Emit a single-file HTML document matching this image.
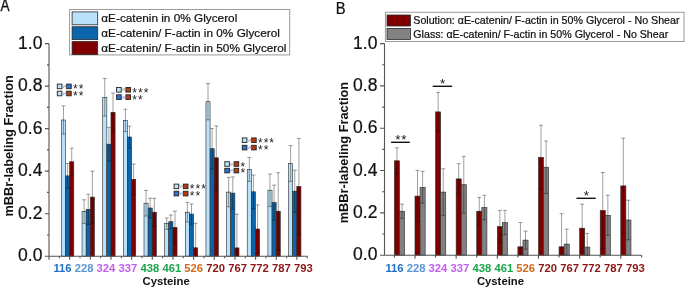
<!DOCTYPE html>
<html><head><meta charset="utf-8"><style>
html,body{margin:0;padding:0;background:#fff;}
body{width:685px;height:288px;overflow:hidden;}
svg{display:block;will-change:transform;}
.k{stroke:#111;stroke-width:0.22px;}
</style></head><body>
<svg width="685" height="288" viewBox="0 0 685 288">
<rect width="685" height="288" fill="#fff"/>
<rect x="61.40" y="120.00" width="4.13" height="136.20" fill="#b9e1f9" stroke="#2a2a2a" stroke-width="0.6"/>
<rect x="65.53" y="175.90" width="4.13" height="80.30" fill="#0a65aa" stroke="#2a2a2a" stroke-width="0.6"/>
<rect x="69.66" y="161.80" width="4.13" height="94.40" fill="#800000" stroke="#2a2a2a" stroke-width="0.6"/>
<rect x="82.05" y="211.60" width="4.13" height="44.60" fill="#b9e1f9" stroke="#2a2a2a" stroke-width="0.6"/>
<rect x="86.18" y="209.30" width="4.13" height="46.90" fill="#0a65aa" stroke="#2a2a2a" stroke-width="0.6"/>
<rect x="90.31" y="197.10" width="4.13" height="59.10" fill="#800000" stroke="#2a2a2a" stroke-width="0.6"/>
<rect x="102.70" y="97.30" width="4.13" height="158.90" fill="#b9e1f9" stroke="#2a2a2a" stroke-width="0.6"/>
<rect x="106.83" y="144.20" width="4.13" height="112.00" fill="#0a65aa" stroke="#2a2a2a" stroke-width="0.6"/>
<rect x="110.96" y="112.30" width="4.13" height="143.90" fill="#800000" stroke="#2a2a2a" stroke-width="0.6"/>
<rect x="123.35" y="120.40" width="4.13" height="135.80" fill="#b9e1f9" stroke="#2a2a2a" stroke-width="0.6"/>
<rect x="127.48" y="137.00" width="4.13" height="119.20" fill="#0a65aa" stroke="#2a2a2a" stroke-width="0.6"/>
<rect x="131.61" y="179.40" width="4.13" height="76.80" fill="#800000" stroke="#2a2a2a" stroke-width="0.6"/>
<rect x="144.00" y="203.20" width="4.13" height="53.00" fill="#b9e1f9" stroke="#2a2a2a" stroke-width="0.6"/>
<rect x="148.13" y="208.00" width="4.13" height="48.20" fill="#0a65aa" stroke="#2a2a2a" stroke-width="0.6"/>
<rect x="152.26" y="212.20" width="4.13" height="44.00" fill="#800000" stroke="#2a2a2a" stroke-width="0.6"/>
<rect x="164.65" y="223.60" width="4.13" height="32.60" fill="#b9e1f9" stroke="#2a2a2a" stroke-width="0.6"/>
<rect x="168.78" y="221.70" width="4.13" height="34.50" fill="#0a65aa" stroke="#2a2a2a" stroke-width="0.6"/>
<rect x="172.91" y="227.40" width="4.13" height="28.80" fill="#800000" stroke="#2a2a2a" stroke-width="0.6"/>
<rect x="185.30" y="212.20" width="4.13" height="44.00" fill="#b9e1f9" stroke="#2a2a2a" stroke-width="0.6"/>
<rect x="189.43" y="214.10" width="4.13" height="42.10" fill="#0a65aa" stroke="#2a2a2a" stroke-width="0.6"/>
<rect x="193.56" y="247.80" width="4.13" height="8.40" fill="#800000" stroke="#2a2a2a" stroke-width="0.6"/>
<rect x="205.95" y="101.70" width="4.13" height="154.50" fill="#b9e1f9" stroke="#2a2a2a" stroke-width="0.6"/>
<rect x="210.08" y="148.70" width="4.13" height="107.50" fill="#0a65aa" stroke="#2a2a2a" stroke-width="0.6"/>
<rect x="214.21" y="157.80" width="4.13" height="98.40" fill="#800000" stroke="#2a2a2a" stroke-width="0.6"/>
<rect x="226.60" y="192.10" width="4.13" height="64.10" fill="#b9e1f9" stroke="#2a2a2a" stroke-width="0.6"/>
<rect x="230.73" y="193.10" width="4.13" height="63.10" fill="#0a65aa" stroke="#2a2a2a" stroke-width="0.6"/>
<rect x="234.86" y="247.90" width="4.13" height="8.30" fill="#800000" stroke="#2a2a2a" stroke-width="0.6"/>
<rect x="247.25" y="169.40" width="4.13" height="86.80" fill="#b9e1f9" stroke="#2a2a2a" stroke-width="0.6"/>
<rect x="251.38" y="191.80" width="4.13" height="64.40" fill="#0a65aa" stroke="#2a2a2a" stroke-width="0.6"/>
<rect x="255.51" y="229.00" width="4.13" height="27.20" fill="#800000" stroke="#2a2a2a" stroke-width="0.6"/>
<rect x="267.90" y="190.20" width="4.13" height="66.00" fill="#b9e1f9" stroke="#2a2a2a" stroke-width="0.6"/>
<rect x="272.03" y="202.60" width="4.13" height="53.60" fill="#0a65aa" stroke="#2a2a2a" stroke-width="0.6"/>
<rect x="276.16" y="211.20" width="4.13" height="45.00" fill="#800000" stroke="#2a2a2a" stroke-width="0.6"/>
<rect x="288.55" y="163.50" width="4.13" height="92.70" fill="#b9e1f9" stroke="#2a2a2a" stroke-width="0.6"/>
<rect x="292.68" y="191.20" width="4.13" height="65.00" fill="#0a65aa" stroke="#2a2a2a" stroke-width="0.6"/>
<rect x="296.81" y="186.60" width="4.13" height="69.60" fill="#800000" stroke="#2a2a2a" stroke-width="0.6"/>
<path d="M63.46 105.90V134.10M61.46 105.90H65.47M61.46 134.10H65.47" stroke="#000" stroke-opacity="0.42" stroke-width="0.9" fill="none"/>
<path d="M67.59 163.50V188.30M65.59 163.50H69.59M65.59 188.30H69.59" stroke="#000" stroke-opacity="0.42" stroke-width="0.9" fill="none"/>
<path d="M71.72 148.20V175.40M69.72 148.20H73.72M69.72 175.40H73.72" stroke="#000" stroke-opacity="0.42" stroke-width="0.9" fill="none"/>
<path d="M84.11 199.80V223.40M82.11 199.80H86.11M82.11 223.40H86.11" stroke="#000" stroke-opacity="0.42" stroke-width="0.9" fill="none"/>
<path d="M88.24 194.20V224.40M86.24 194.20H90.24M86.24 224.40H90.24" stroke="#000" stroke-opacity="0.42" stroke-width="0.9" fill="none"/>
<path d="M92.38 171.10V223.10M90.38 171.10H94.38M90.38 223.10H94.38" stroke="#000" stroke-opacity="0.42" stroke-width="0.9" fill="none"/>
<path d="M104.76 78.50V116.10M102.76 78.50H106.76M102.76 116.10H106.76" stroke="#000" stroke-opacity="0.42" stroke-width="0.9" fill="none"/>
<path d="M108.89 127.40V161.00M106.89 127.40H110.89M106.89 161.00H110.89" stroke="#000" stroke-opacity="0.42" stroke-width="0.9" fill="none"/>
<path d="M113.02 93.00V131.60M111.02 93.00H115.02M111.02 131.60H115.02" stroke="#000" stroke-opacity="0.42" stroke-width="0.9" fill="none"/>
<path d="M125.41 109.20V131.60M123.41 109.20H127.41M123.41 131.60H127.41" stroke="#000" stroke-opacity="0.42" stroke-width="0.9" fill="none"/>
<path d="M129.54 126.10V147.90M127.54 126.10H131.54M127.54 147.90H131.54" stroke="#000" stroke-opacity="0.42" stroke-width="0.9" fill="none"/>
<path d="M133.67 164.10V194.70M131.67 164.10H135.67M131.67 194.70H135.67" stroke="#000" stroke-opacity="0.42" stroke-width="0.9" fill="none"/>
<path d="M146.06 190.40V216.00M144.06 190.40H148.06M144.06 216.00H148.06" stroke="#000" stroke-opacity="0.42" stroke-width="0.9" fill="none"/>
<path d="M150.19 198.20V217.80M148.19 198.20H152.19M148.19 217.80H152.19" stroke="#000" stroke-opacity="0.42" stroke-width="0.9" fill="none"/>
<path d="M154.32 198.30V226.10M152.32 198.30H156.32M152.32 226.10H156.32" stroke="#000" stroke-opacity="0.42" stroke-width="0.9" fill="none"/>
<path d="M166.72 217.90V229.30M164.72 217.90H168.72M164.72 229.30H168.72" stroke="#000" stroke-opacity="0.42" stroke-width="0.9" fill="none"/>
<path d="M170.84 215.00V228.40M168.84 215.00H172.84M168.84 228.40H172.84" stroke="#000" stroke-opacity="0.42" stroke-width="0.9" fill="none"/>
<path d="M174.97 211.20V243.60M172.97 211.20H176.97M172.97 243.60H176.97" stroke="#000" stroke-opacity="0.42" stroke-width="0.9" fill="none"/>
<path d="M187.36 202.30V222.10M185.36 202.30H189.36M185.36 222.10H189.36" stroke="#000" stroke-opacity="0.42" stroke-width="0.9" fill="none"/>
<path d="M191.49 204.00V224.20M189.49 204.00H193.49M189.49 224.20H193.49" stroke="#000" stroke-opacity="0.42" stroke-width="0.9" fill="none"/>
<path d="M195.62 223.20V256.20M193.62 223.20H197.62M193.62 256.20H197.62" stroke="#000" stroke-opacity="0.42" stroke-width="0.9" fill="none"/>
<path d="M208.01 83.50V119.90M206.01 83.50H210.01M206.01 119.90H210.01" stroke="#000" stroke-opacity="0.42" stroke-width="0.9" fill="none"/>
<path d="M212.14 128.40V169.00M210.14 128.40H214.14M210.14 169.00H214.14" stroke="#000" stroke-opacity="0.42" stroke-width="0.9" fill="none"/>
<path d="M216.27 125.90V189.70M214.27 125.90H218.27M214.27 189.70H218.27" stroke="#000" stroke-opacity="0.42" stroke-width="0.9" fill="none"/>
<path d="M228.66 177.40V206.80M226.66 177.40H230.66M226.66 206.80H230.66" stroke="#000" stroke-opacity="0.42" stroke-width="0.9" fill="none"/>
<path d="M232.79 176.90V209.30M230.79 176.90H234.79M230.79 209.30H234.79" stroke="#000" stroke-opacity="0.42" stroke-width="0.9" fill="none"/>
<path d="M236.92 214.10V256.20M234.92 214.10H238.92M234.92 256.20H238.92" stroke="#000" stroke-opacity="0.42" stroke-width="0.9" fill="none"/>
<path d="M249.31 157.40V181.40M247.31 157.40H251.31M247.31 181.40H251.31" stroke="#000" stroke-opacity="0.42" stroke-width="0.9" fill="none"/>
<path d="M253.44 175.00V208.60M251.44 175.00H255.44M251.44 208.60H255.44" stroke="#000" stroke-opacity="0.42" stroke-width="0.9" fill="none"/>
<path d="M257.57 204.90V253.10M255.57 204.90H259.57M255.57 253.10H259.57" stroke="#000" stroke-opacity="0.42" stroke-width="0.9" fill="none"/>
<path d="M269.96 174.00V206.40M267.96 174.00H271.96M267.96 206.40H271.96" stroke="#000" stroke-opacity="0.42" stroke-width="0.9" fill="none"/>
<path d="M274.09 185.10V220.10M272.09 185.10H276.09M272.09 220.10H276.09" stroke="#000" stroke-opacity="0.42" stroke-width="0.9" fill="none"/>
<path d="M278.22 172.70V249.70M276.22 172.70H280.22M276.22 249.70H280.22" stroke="#000" stroke-opacity="0.42" stroke-width="0.9" fill="none"/>
<path d="M290.61 145.60V181.40M288.61 145.60H292.61M288.61 181.40H292.61" stroke="#000" stroke-opacity="0.42" stroke-width="0.9" fill="none"/>
<path d="M294.74 170.20V212.20M292.74 170.20H296.74M292.74 212.20H296.74" stroke="#000" stroke-opacity="0.42" stroke-width="0.9" fill="none"/>
<path d="M298.87 138.50V234.70M296.87 138.50H300.87M296.87 234.70H300.87" stroke="#000" stroke-opacity="0.42" stroke-width="0.9" fill="none"/>
<rect x="394.40" y="160.80" width="5.10" height="94.40" fill="#800000" stroke="#2a2a2a" stroke-width="0.6"/>
<rect x="399.50" y="211.20" width="5.10" height="44.00" fill="#818181" stroke="#2a2a2a" stroke-width="0.6"/>
<rect x="414.98" y="196.10" width="5.10" height="59.10" fill="#800000" stroke="#2a2a2a" stroke-width="0.6"/>
<rect x="420.08" y="187.30" width="5.10" height="67.90" fill="#818181" stroke="#2a2a2a" stroke-width="0.6"/>
<rect x="435.56" y="111.90" width="5.10" height="143.30" fill="#800000" stroke="#2a2a2a" stroke-width="0.6"/>
<rect x="440.66" y="192.10" width="5.10" height="63.10" fill="#818181" stroke="#2a2a2a" stroke-width="0.6"/>
<rect x="456.14" y="178.90" width="5.10" height="76.30" fill="#800000" stroke="#2a2a2a" stroke-width="0.6"/>
<rect x="461.24" y="184.70" width="5.10" height="70.50" fill="#818181" stroke="#2a2a2a" stroke-width="0.6"/>
<rect x="476.72" y="211.20" width="5.10" height="44.00" fill="#800000" stroke="#2a2a2a" stroke-width="0.6"/>
<rect x="481.82" y="207.50" width="5.10" height="47.70" fill="#818181" stroke="#2a2a2a" stroke-width="0.6"/>
<rect x="497.30" y="226.60" width="5.10" height="28.60" fill="#800000" stroke="#2a2a2a" stroke-width="0.6"/>
<rect x="502.40" y="222.60" width="5.10" height="32.60" fill="#818181" stroke="#2a2a2a" stroke-width="0.6"/>
<rect x="517.88" y="246.80" width="5.10" height="8.40" fill="#800000" stroke="#2a2a2a" stroke-width="0.6"/>
<rect x="522.98" y="240.10" width="5.10" height="15.10" fill="#818181" stroke="#2a2a2a" stroke-width="0.6"/>
<rect x="538.46" y="157.30" width="5.10" height="97.90" fill="#800000" stroke="#2a2a2a" stroke-width="0.6"/>
<rect x="543.56" y="167.20" width="5.10" height="88.00" fill="#818181" stroke="#2a2a2a" stroke-width="0.6"/>
<rect x="559.04" y="246.80" width="5.10" height="8.40" fill="#800000" stroke="#2a2a2a" stroke-width="0.6"/>
<rect x="564.14" y="244.10" width="5.10" height="11.10" fill="#818181" stroke="#2a2a2a" stroke-width="0.6"/>
<rect x="579.62" y="228.20" width="5.10" height="27.00" fill="#800000" stroke="#2a2a2a" stroke-width="0.6"/>
<rect x="584.72" y="247.10" width="5.10" height="8.10" fill="#818181" stroke="#2a2a2a" stroke-width="0.6"/>
<rect x="600.20" y="210.50" width="5.10" height="44.70" fill="#800000" stroke="#2a2a2a" stroke-width="0.6"/>
<rect x="605.30" y="215.30" width="5.10" height="39.90" fill="#818181" stroke="#2a2a2a" stroke-width="0.6"/>
<rect x="620.78" y="185.90" width="5.10" height="69.30" fill="#800000" stroke="#2a2a2a" stroke-width="0.6"/>
<rect x="625.88" y="220.00" width="5.10" height="35.20" fill="#818181" stroke="#2a2a2a" stroke-width="0.6"/>
<path d="M396.95 147.80V173.80M394.95 147.80H398.95M394.95 173.80H398.95" stroke="#000" stroke-opacity="0.42" stroke-width="0.9" fill="none"/>
<path d="M402.05 204.10V218.30M400.05 204.10H404.05M400.05 218.30H404.05" stroke="#000" stroke-opacity="0.42" stroke-width="0.9" fill="none"/>
<path d="M417.53 170.30V221.90M415.53 170.30H419.53M415.53 221.90H419.53" stroke="#000" stroke-opacity="0.42" stroke-width="0.9" fill="none"/>
<path d="M422.63 171.30V203.30M420.63 171.30H424.63M420.63 203.30H424.63" stroke="#000" stroke-opacity="0.42" stroke-width="0.9" fill="none"/>
<path d="M438.11 92.40V131.40M436.11 92.40H440.11M436.11 131.40H440.11" stroke="#000" stroke-opacity="0.42" stroke-width="0.9" fill="none"/>
<path d="M443.21 168.80V215.40M441.21 168.80H445.21M441.21 215.40H445.21" stroke="#000" stroke-opacity="0.42" stroke-width="0.9" fill="none"/>
<path d="M458.69 163.70V194.10M456.69 163.70H460.69M456.69 194.10H460.69" stroke="#000" stroke-opacity="0.42" stroke-width="0.9" fill="none"/>
<path d="M463.79 156.40V213.00M461.79 156.40H465.79M461.79 213.00H465.79" stroke="#000" stroke-opacity="0.42" stroke-width="0.9" fill="none"/>
<path d="M479.27 197.40V225.00M477.27 197.40H481.27M477.27 225.00H481.27" stroke="#000" stroke-opacity="0.42" stroke-width="0.9" fill="none"/>
<path d="M484.37 195.20V219.80M482.37 195.20H486.37M482.37 219.80H486.37" stroke="#000" stroke-opacity="0.42" stroke-width="0.9" fill="none"/>
<path d="M499.85 210.40V242.80M497.85 210.40H501.85M497.85 242.80H501.85" stroke="#000" stroke-opacity="0.42" stroke-width="0.9" fill="none"/>
<path d="M504.95 210.40V234.80M502.95 210.40H506.95M502.95 234.80H506.95" stroke="#000" stroke-opacity="0.42" stroke-width="0.9" fill="none"/>
<path d="M520.43 222.50V255.20M518.43 222.50H522.43M518.43 255.20H522.43" stroke="#000" stroke-opacity="0.42" stroke-width="0.9" fill="none"/>
<path d="M525.53 231.10V249.10M523.53 231.10H527.53M523.53 249.10H527.53" stroke="#000" stroke-opacity="0.42" stroke-width="0.9" fill="none"/>
<path d="M541.01 125.20V189.40M539.01 125.20H543.01M539.01 189.40H543.01" stroke="#000" stroke-opacity="0.42" stroke-width="0.9" fill="none"/>
<path d="M546.11 141.00V193.40M544.11 141.00H548.11M544.11 193.40H548.11" stroke="#000" stroke-opacity="0.42" stroke-width="0.9" fill="none"/>
<path d="M561.59 213.70V255.20M559.59 213.70H563.59M559.59 255.20H563.59" stroke="#000" stroke-opacity="0.42" stroke-width="0.9" fill="none"/>
<path d="M566.69 229.20V255.20M564.69 229.20H568.69M564.69 255.20H568.69" stroke="#000" stroke-opacity="0.42" stroke-width="0.9" fill="none"/>
<path d="M582.17 204.20V252.20M580.17 204.20H584.17M580.17 252.20H584.17" stroke="#000" stroke-opacity="0.42" stroke-width="0.9" fill="none"/>
<path d="M587.27 233.40V255.20M585.27 233.40H589.27M585.27 255.20H589.27" stroke="#000" stroke-opacity="0.42" stroke-width="0.9" fill="none"/>
<path d="M602.75 172.50V248.50M600.75 172.50H604.75M600.75 248.50H604.75" stroke="#000" stroke-opacity="0.42" stroke-width="0.9" fill="none"/>
<path d="M607.85 195.20V235.40M605.85 195.20H609.85M605.85 235.40H609.85" stroke="#000" stroke-opacity="0.42" stroke-width="0.9" fill="none"/>
<path d="M623.33 138.20V233.60M621.33 138.20H625.33M621.33 233.60H625.33" stroke="#000" stroke-opacity="0.42" stroke-width="0.9" fill="none"/>
<path d="M628.43 200.20V239.80M626.43 200.20H630.43M626.43 239.80H630.43" stroke="#000" stroke-opacity="0.42" stroke-width="0.9" fill="none"/>
<path d="M49.0 43.60V259.6 M45 256.2H307.4 M44.9 256.20H49.0 M44.9 213.68H49.0 M44.9 171.16H49.0 M44.9 128.64H49.0 M44.9 86.12H49.0 M44.9 43.60H49.0 M47 234.94H49.0 M47 192.42H49.0 M47 149.90H49.0 M47 107.38H49.0 M47 64.86H49.0 M49.00 256.2v3.6 M59.33 256.2v2.0 M69.66 256.2v3.6 M79.99 256.2v2.0 M90.32 256.2v3.6 M100.65 256.2v2.0 M110.98 256.2v3.6 M121.31 256.2v2.0 M131.64 256.2v3.6 M141.97 256.2v2.0 M152.30 256.2v3.6 M162.63 256.2v2.0 M172.96 256.2v3.6 M183.29 256.2v2.0 M193.62 256.2v3.6 M203.95 256.2v2.0 M214.28 256.2v3.6 M224.61 256.2v2.0 M234.94 256.2v3.6 M245.27 256.2v2.0 M255.60 256.2v3.6 M265.93 256.2v2.0 M276.26 256.2v3.6 M286.59 256.2v2.0 M296.92 256.2v3.6 M307.25 256.2v2.0" stroke="#555555" stroke-width="1.1" fill="none"/>
<path d="M384.5 43.60V255.2 M380.1 255.2H641.6 M380.1 255.20H384.5 M380.1 212.88H384.5 M380.1 170.56H384.5 M380.1 128.24H384.5 M380.1 85.92H384.5 M380.1 43.60H384.5 M382.2 234.04H384.5 M382.2 191.72H384.5 M382.2 149.40H384.5 M382.2 107.08H384.5 M382.2 64.76H384.5 M394.40 255.2v2.2 M414.98 255.2v3.6 M435.56 255.2v2.2 M456.14 255.2v3.6 M476.72 255.2v2.2 M497.30 255.2v3.6 M517.88 255.2v2.2 M538.46 255.2v3.6 M559.04 255.2v2.2 M579.62 255.2v3.6 M600.20 255.2v2.2 M620.78 255.2v3.6 M641.6 255.2v2.2" stroke="#555555" stroke-width="1.1" fill="none"/>
<text x="42.4" y="261.40" font-family="Liberation Sans, sans-serif" font-size="17.5" text-anchor="end" fill="#111" class="k">0.0</text>
<text x="377.4" y="260.40" font-family="Liberation Sans, sans-serif" font-size="17.5" text-anchor="end" fill="#111" class="k">0.0</text>
<text x="42.4" y="218.88" font-family="Liberation Sans, sans-serif" font-size="17.5" text-anchor="end" fill="#111" class="k">0.2</text>
<text x="377.4" y="218.08" font-family="Liberation Sans, sans-serif" font-size="17.5" text-anchor="end" fill="#111" class="k">0.2</text>
<text x="42.4" y="176.36" font-family="Liberation Sans, sans-serif" font-size="17.5" text-anchor="end" fill="#111" class="k">0.4</text>
<text x="377.4" y="175.76" font-family="Liberation Sans, sans-serif" font-size="17.5" text-anchor="end" fill="#111" class="k">0.4</text>
<text x="42.4" y="133.84" font-family="Liberation Sans, sans-serif" font-size="17.5" text-anchor="end" fill="#111" class="k">0.6</text>
<text x="377.4" y="133.44" font-family="Liberation Sans, sans-serif" font-size="17.5" text-anchor="end" fill="#111" class="k">0.6</text>
<text x="42.4" y="91.32" font-family="Liberation Sans, sans-serif" font-size="17.5" text-anchor="end" fill="#111" class="k">0.8</text>
<text x="377.4" y="91.12" font-family="Liberation Sans, sans-serif" font-size="17.5" text-anchor="end" fill="#111" class="k">0.8</text>
<text x="42.4" y="48.80" font-family="Liberation Sans, sans-serif" font-size="17.5" text-anchor="end" fill="#111" class="k">1.0</text>
<text x="377.4" y="48.80" font-family="Liberation Sans, sans-serif" font-size="17.5" text-anchor="end" fill="#111" class="k">1.0</text>
<text transform="translate(13.4,216.6) rotate(-90)" font-family="Liberation Sans, sans-serif" font-size="12.8" font-weight="bold" fill="#111">mBBr-labeling Fraction</text>
<text transform="translate(348.0,223.3) rotate(-90)" font-family="Liberation Sans, sans-serif" font-size="12.8" font-weight="bold" fill="#111">mBBr-labeling Fraction</text>
<text x="53.4" y="272" font-family="Liberation Sans, sans-serif" font-size="11.25" font-weight="bold" xml:space="preserve"><tspan fill="#1f6fc4">116</tspan> <tspan fill="#5b96d6">228</tspan> <tspan fill="#c060ee">324</tspan> <tspan fill="#c060ee">337</tspan> <tspan fill="#1ca64c">438</tspan> <tspan fill="#1ca64c">461</tspan> <tspan fill="#d2691e">526</tspan> <tspan fill="#8b1414">720</tspan> <tspan fill="#8b1414">767</tspan> <tspan fill="#8b1414">772</tspan> <tspan fill="#8b1414">787</tspan> <tspan fill="#8b1414">793</tspan></text>
<text x="385.4" y="272" font-family="Liberation Sans, sans-serif" font-size="11.25" font-weight="bold" xml:space="preserve"><tspan fill="#1f6fc4">116</tspan> <tspan fill="#5b96d6">228</tspan> <tspan fill="#c060ee">324</tspan> <tspan fill="#c060ee">337</tspan> <tspan fill="#1ca64c">438</tspan> <tspan fill="#1ca64c">461</tspan> <tspan fill="#d2691e">526</tspan> <tspan fill="#8b1414">720</tspan> <tspan fill="#8b1414">767</tspan> <tspan fill="#8b1414">772</tspan> <tspan fill="#8b1414">787</tspan> <tspan fill="#8b1414">793</tspan></text>
<text x="142.6" y="285" font-family="Liberation Sans, sans-serif" font-size="11.3" font-weight="bold" fill="#111">Cysteine</text>
<text x="476.9" y="285" font-family="Liberation Sans, sans-serif" font-size="11.3" font-weight="bold" fill="#111">Cysteine</text>
<text transform="translate(0.4,10.5) scale(1,1.15)" font-family="Liberation Sans, sans-serif" font-size="13.6" fill="#111" class="k">A</text>
<text transform="translate(335.8,13.8) scale(1,1.065)" font-family="Liberation Sans, sans-serif" font-size="14.8" fill="#111" class="k">B</text>
<rect x="69.6" y="9.5" width="220.1" height="45.4" fill="#fff" stroke="#9a9a9a" stroke-width="1"/>
<rect x="72.1" y="11.90" width="25.6" height="12.9" fill="#b9e1f9" stroke="#2a2a2a" stroke-width="0.8"/>
<text x="101.3" y="22.30" font-family="Liberation Sans, sans-serif" font-size="11.8" fill="#111" class="k">αE-catenin in 0% Glycerol</text>
<rect x="72.1" y="26.75" width="25.6" height="12.9" fill="#0a65aa" stroke="#2a2a2a" stroke-width="0.8"/>
<text x="101.3" y="37.15" font-family="Liberation Sans, sans-serif" font-size="11.8" fill="#111" class="k">αE-catenin/ F-actin in 0% Glycerol</text>
<rect x="72.1" y="41.60" width="25.6" height="12.9" fill="#800000" stroke="#2a2a2a" stroke-width="0.8"/>
<text x="101.3" y="52.00" font-family="Liberation Sans, sans-serif" font-size="11.8" fill="#111" class="k">αE-catenin/ F-actin in 50% Glycerol</text>
<rect x="385.4" y="12.3" width="298.6" height="29.2" fill="#fff" stroke="#9a9a9a" stroke-width="1"/>
<rect x="387.0" y="15.00" width="23.4" height="11.0" fill="#800000" stroke="#2a2a2a" stroke-width="0.8"/>
<text x="413.3" y="24.30" font-family="Liberation Sans, sans-serif" font-size="10.66" fill="#111" class="k">Solution: αE-catenin/ F-actin in 50% Glycerol - No Shear</text>
<rect x="387.0" y="28.40" width="23.4" height="11.0" fill="#818181" stroke="#2a2a2a" stroke-width="0.8"/>
<text x="413.3" y="37.80" font-family="Liberation Sans, sans-serif" font-size="10.66" fill="#111" class="k">Glass: αE-catenin/ F-actin in 50% Glycerol - No Shear</text>
<rect x="57.30" y="84.10" width="4.6" height="4.6" fill="#bfe2fa" stroke="#222" stroke-width="0.9"/>
<rect x="66.60" y="84.10" width="4.6" height="4.6" fill="#2f70c8" stroke="#222" stroke-width="0.9"/>
<text x="62.40" y="88.00" font-family="Liberation Sans, sans-serif" font-size="4.6" fill="#888">vs</text>
<text x="73.00" y="93.15" font-family="Liberation Sans, sans-serif" font-size="12" fill="#222" letter-spacing="1.0">**</text>
<rect x="57.30" y="91.20" width="4.6" height="4.6" fill="#bfe2fa" stroke="#222" stroke-width="0.9"/>
<rect x="66.60" y="91.20" width="4.6" height="4.6" fill="#b83a0c" stroke="#222" stroke-width="0.9"/>
<text x="62.40" y="95.10" font-family="Liberation Sans, sans-serif" font-size="4.6" fill="#7b86c8">vs</text>
<text x="73.00" y="100.25" font-family="Liberation Sans, sans-serif" font-size="12" fill="#222" letter-spacing="1.0">**</text>
<rect x="116.60" y="87.50" width="4.6" height="4.6" fill="#bfe2fa" stroke="#222" stroke-width="0.9"/>
<rect x="125.90" y="87.50" width="4.6" height="4.6" fill="#b83a0c" stroke="#222" stroke-width="0.9"/>
<text x="121.70" y="91.40" font-family="Liberation Sans, sans-serif" font-size="4.6" fill="#888">vs</text>
<text x="132.30" y="96.55" font-family="Liberation Sans, sans-serif" font-size="12" fill="#222" letter-spacing="1.0">***</text>
<rect x="116.60" y="94.80" width="4.6" height="4.6" fill="#2f70c8" stroke="#222" stroke-width="0.9"/>
<rect x="125.90" y="94.80" width="4.6" height="4.6" fill="#b83a0c" stroke="#222" stroke-width="0.9"/>
<text x="121.70" y="98.70" font-family="Liberation Sans, sans-serif" font-size="4.6" fill="#7b86c8">vs</text>
<text x="132.30" y="103.85" font-family="Liberation Sans, sans-serif" font-size="12" fill="#222" letter-spacing="1.0">**</text>
<rect x="174.10" y="184.10" width="4.6" height="4.6" fill="#bfe2fa" stroke="#222" stroke-width="0.9"/>
<rect x="183.40" y="184.10" width="4.6" height="4.6" fill="#b83a0c" stroke="#222" stroke-width="0.9"/>
<text x="179.20" y="188.00" font-family="Liberation Sans, sans-serif" font-size="4.6" fill="#888">vs</text>
<text x="189.80" y="193.15" font-family="Liberation Sans, sans-serif" font-size="12" fill="#222" letter-spacing="1.0">***</text>
<rect x="174.10" y="191.30" width="4.6" height="4.6" fill="#2f70c8" stroke="#222" stroke-width="0.9"/>
<rect x="183.40" y="191.30" width="4.6" height="4.6" fill="#b83a0c" stroke="#222" stroke-width="0.9"/>
<text x="179.20" y="195.20" font-family="Liberation Sans, sans-serif" font-size="4.6" fill="#7b86c8">vs</text>
<text x="189.80" y="200.35" font-family="Liberation Sans, sans-serif" font-size="12" fill="#222" letter-spacing="1.0">**</text>
<rect x="224.80" y="161.70" width="4.6" height="4.6" fill="#bfe2fa" stroke="#222" stroke-width="0.9"/>
<rect x="234.10" y="161.70" width="4.6" height="4.6" fill="#b83a0c" stroke="#222" stroke-width="0.9"/>
<text x="229.90" y="165.60" font-family="Liberation Sans, sans-serif" font-size="4.6" fill="#888">vs</text>
<text x="240.50" y="170.75" font-family="Liberation Sans, sans-serif" font-size="12" fill="#222" letter-spacing="1.0">*</text>
<rect x="224.80" y="168.30" width="4.6" height="4.6" fill="#2f70c8" stroke="#222" stroke-width="0.9"/>
<rect x="234.10" y="168.30" width="4.6" height="4.6" fill="#b83a0c" stroke="#222" stroke-width="0.9"/>
<text x="229.90" y="172.20" font-family="Liberation Sans, sans-serif" font-size="4.6" fill="#7b86c8">vs</text>
<text x="240.50" y="177.35" font-family="Liberation Sans, sans-serif" font-size="12" fill="#222" letter-spacing="1.0">*</text>
<rect x="242.30" y="137.90" width="4.6" height="4.6" fill="#bfe2fa" stroke="#222" stroke-width="0.9"/>
<rect x="251.60" y="137.90" width="4.6" height="4.6" fill="#b83a0c" stroke="#222" stroke-width="0.9"/>
<text x="247.40" y="141.80" font-family="Liberation Sans, sans-serif" font-size="4.6" fill="#888">vs</text>
<text x="258.00" y="146.95" font-family="Liberation Sans, sans-serif" font-size="12" fill="#222" letter-spacing="1.0">***</text>
<rect x="242.30" y="145.30" width="4.6" height="4.6" fill="#2f70c8" stroke="#222" stroke-width="0.9"/>
<rect x="251.60" y="145.30" width="4.6" height="4.6" fill="#b83a0c" stroke="#222" stroke-width="0.9"/>
<text x="247.40" y="149.20" font-family="Liberation Sans, sans-serif" font-size="4.6" fill="#7b86c8">vs</text>
<text x="258.00" y="154.35" font-family="Liberation Sans, sans-serif" font-size="12" fill="#222" letter-spacing="1.0">**</text>
<path d="M391.1 142.3H409.8" stroke="#111" stroke-width="1.4"/>
<text x="401.35" y="144.3" font-family="Liberation Sans, sans-serif" font-size="13.5" fill="#111" text-anchor="middle" letter-spacing="0.8">**</text>
<path d="M432.7 86.3H452.2" stroke="#111" stroke-width="1.4"/>
<text x="443.0" y="88.3" font-family="Liberation Sans, sans-serif" font-size="13.5" fill="#111" text-anchor="middle" letter-spacing="0.8">*</text>
<path d="M576.5 198.3H595.7" stroke="#111" stroke-width="1.4"/>
<text x="586.8" y="200.3" font-family="Liberation Sans, sans-serif" font-size="13.5" fill="#111" text-anchor="middle" letter-spacing="0.8">*</text>
</svg>
</body></html>
